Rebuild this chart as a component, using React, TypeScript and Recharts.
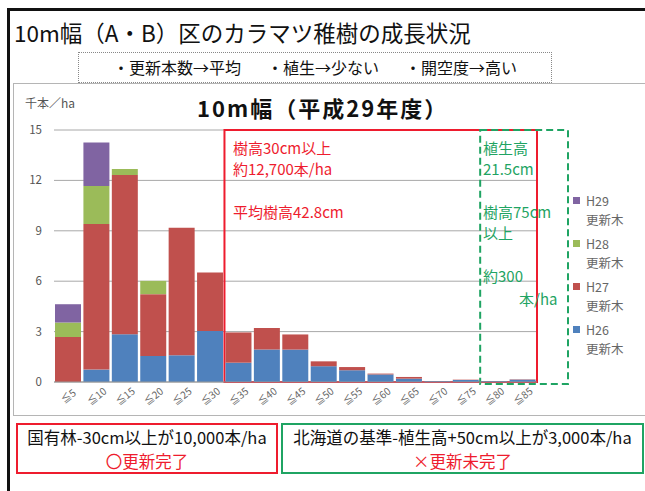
import React from 'react';
import { BarChart, Bar, XAxis, YAxis, CartesianGrid, ReferenceArea, Legend } from 'recharts';

// 樹高階 (cm)
const categories = ['≦5', '≦10', '≦15', '≦20', '≦25', '≦30', '≦35', '≦40', '≦45', '≦50', '≦55', '≦60', '≦65', '≦70', '≦75', '≦80', '≦85'];
// 千本/ha
const h26 = [0, 0.74, 2.84, 1.55, 1.59, 3.04, 1.15, 1.93, 1.93, 0.94, 0.7, 0.45, 0.2, 0.05, 0.12, 0.05, 0.14];
const h27 = [2.68, 8.66, 9.48, 3.68, 7.59, 3.48, 1.8, 1.29, 0.9, 0.29, 0.19, 0.05, 0.1, 0, 0.02, 0, 0.02];
const h28 = [0.86, 2.26, 0.36, 0.79, 0, 0, 0, 0, 0, 0, 0, 0, 0, 0, 0, 0, 0];
const h29 = [1.09, 2.59, 0, 0, 0, 0, 0, 0, 0, 0, 0, 0, 0, 0, 0, 0, 0];
const yTicks = [0, 3, 6, 9, 12, 15];

const series = [
  { key: 'h26', name: 'H26', color: '#4f81bd' },
  { key: 'h27', name: 'H27', color: '#c0504d' },
  { key: 'h28', name: 'H28', color: '#9bbb59' },
  { key: 'h29', name: 'H29', color: '#8064a2' },
];

const data = categories.map((c, i) => ({ cat: c, h26: h26[i], h27: h27[i], h28: h28[i], h29: h29[i] }));

const FONT = '"Noto Sans CJK JP", "Noto Sans", sans-serif';
const RED = '#ee1c2e';
const GREEN = '#1fa463';

const XTick = (props: any) => {
  const { x, y, payload } = props;
  return (
    <g transform={`translate(${x},${y + 6}) rotate(-38)`}>
      <text textAnchor="middle" dy={4} fontSize={10} fill="#666" fontFamily={FONT}>{payload.value}</text>
    </g>
  );
};

const LegendBox = (props: any) => {
  const items = [...(props.payload || [])].reverse();
  return (
    <div style={{ fontFamily: FONT, fontSize: 12.5, color: '#666', lineHeight: '19px' }}>
      {items.map((p: any) => (
        <div key={p.value} style={{ marginBottom: 5 }}>
          <div style={{ position: 'relative', paddingLeft: 13 }}>
            <span style={{ position: 'absolute', left: 0, top: 6, width: 7, height: 7, background: p.color }} />
            {p.value}
          </div>
          <div style={{ paddingLeft: 13 }}>更新木</div>
        </div>
      ))}
    </div>
  );
};

const GreenBox = (props: any) => {
  const { x, y, width, height } = props;
  return <rect x={x} y={y} width={width + 31} height={height + 2} fill="none" stroke={GREEN} strokeWidth={2} strokeDasharray="7 4" />;
};

const abs = (left: number, top: number, extra: any = {}) => ({ position: 'absolute' as const, left, top, lineHeight: 1, whiteSpace: 'nowrap' as const, ...extra });

export default function App() {
  return (
    <div style={{ position: 'absolute', left: 0, top: 0, width: 645, height: 491, background: '#fff', overflow: 'hidden', fontFamily: FONT }}>
      <div style={{ position: 'absolute', left: 7, top: 8, width: 700, height: 600, border: '3px solid #111' }} />
      <div style={abs(14, 21, { fontSize: 22.5, color: '#111' })}>10m幅（A・B）区のカラマツ稚樹の成長状況</div>
      <div style={{ position: 'absolute', left: 78, top: 52, width: 474, height: 31, border: '1px dotted #888', boxSizing: 'border-box', fontSize: 16, lineHeight: '29px', textAlign: 'center', color: '#111', whiteSpace: 'nowrap' }}>
        ・更新本数→平均<span style={{ display: 'inline-block', width: 26 }} />・植生→少ない<span style={{ display: 'inline-block', width: 26 }} />・開空度→高い
      </div>
      <div style={{ position: 'absolute', left: 13, top: 83, width: 640, height: 333, border: '1px solid #b5b5b5', boxSizing: 'border-box' }} />
      <div style={abs(25, 97, { fontSize: 12, color: '#555' })}>千本／ha</div>
      <div style={abs(197, 96, { fontSize: 22, fontWeight: 'bold', color: '#111', letterSpacing: 2 })}>10m幅（平成29年度）</div>

      <div style={{ position: 'absolute', left: 0, top: 0 }}>
        <BarChart width={645} height={491} data={data} margin={{ top: 130, right: 108, bottom: 79, left: 34 }} barCategoryGap={1}>
          <CartesianGrid vertical={false} stroke="#a8a8a8" />
          <XAxis dataKey="cat" height={30} interval={0} tick={<XTick />} tickLine={false} stroke="#999" />
          <YAxis width={20} domain={[0, 15]} ticks={yTicks} tickLine={false} axisLine={false} tickSize={0} tickMargin={12}
            tick={{ fontSize: 11.5, fill: '#555', fontFamily: FONT }} />
          {series.map((s) => (
            <Bar key={s.key} dataKey={s.key} name={s.name} stackId="a" fill={s.color} isAnimationActive={false} />
          ))}
          <ReferenceArea x1="≦35" x2="≦85" y1={0} y2={15} ifOverflow="visible" fill="none" stroke={RED} strokeWidth={2} />
          <ReferenceArea x1="≦80" x2="≦85" y1={0} y2={15} ifOverflow="visible" shape={<GreenBox />} />
          <Legend layout="vertical" align="center" verticalAlign="middle" content={<LegendBox />}
            wrapperStyle={{ left: 573, top: 191, width: 70 }} />
        </BarChart>
      </div>

      <div style={abs(233, 140, { fontSize: 15, color: RED })}>樹高30cm以上</div>
      <div style={abs(233, 161, { fontSize: 15, color: RED })}>約12,700本/ha</div>
      <div style={abs(233, 204, { fontSize: 15, color: RED })}>平均樹高42.8cm</div>

      <div style={abs(483, 140, { fontSize: 15, color: GREEN })}>植生高</div>
      <div style={abs(483, 161, { fontSize: 15, color: GREEN })}>21.5cm</div>
      <div style={abs(483, 204, { fontSize: 15, color: GREEN })}>樹高75cm</div>
      <div style={abs(483, 225, { fontSize: 15, color: GREEN })}>以上</div>
      <div style={abs(483, 268, { fontSize: 15, color: GREEN })}>約300</div>
      <div style={abs(519, 291, { fontSize: 15, color: GREEN })}>本/ha</div>

      <div style={{ position: 'absolute', left: 16, top: 423, width: 262, height: 51, border: `2px solid ${RED}`, boxSizing: 'border-box', textAlign: 'center', fontSize: 16.5, lineHeight: '24px', whiteSpace: 'nowrap' }}>
        <div style={{ color: '#111' }}>国有林-30cm以上が10,000本/ha</div>
        <div style={{ color: RED }}>〇更新完了</div>
      </div>
      <div style={{ position: 'absolute', left: 281, top: 423, width: 363, height: 51, border: `2px solid ${GREEN}`, boxSizing: 'border-box', textAlign: 'center', fontSize: 16.5, lineHeight: '24px', whiteSpace: 'nowrap' }}>
        <div style={{ color: '#111' }}>北海道の基準-植生高+50cm以上が3,000本/ha</div>
        <div style={{ color: RED }}>×更新未完了</div>
      </div>
    </div>
  );
}
